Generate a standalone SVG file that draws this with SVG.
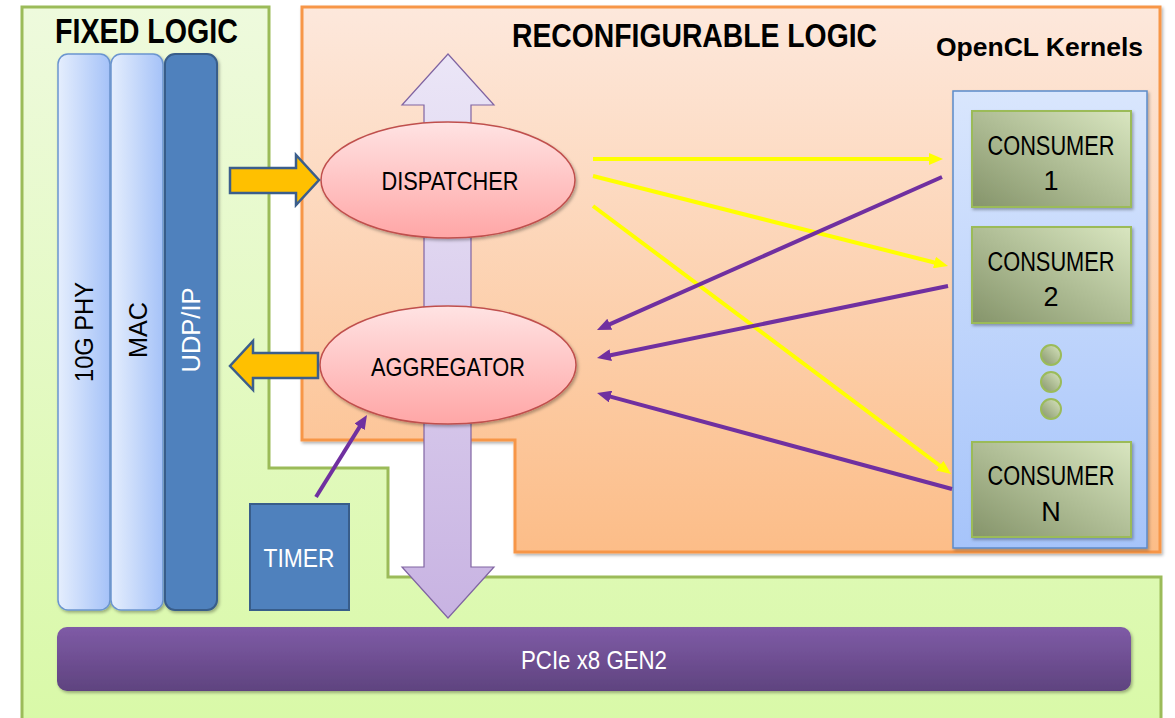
<svg xmlns="http://www.w3.org/2000/svg" width="1175" height="718" viewBox="0 0 1175 718">
  <defs>
    <linearGradient id="gFixed" x1="0" y1="0" x2="0" y2="1">
      <stop offset="0" stop-color="#eefadd"/>
      <stop offset="1" stop-color="#d9f9a8"/>
    </linearGradient>
    <linearGradient id="gReconf" x1="0" y1="0" x2="0" y2="1">
      <stop offset="0" stop-color="#fde8dc"/>
      <stop offset="1" stop-color="#fcbd88"/>
    </linearGradient>
    <linearGradient id="gCol" x1="0" y1="0" x2="1" y2="0">
      <stop offset="0" stop-color="#e5eefd"/>
      <stop offset="1" stop-color="#a5c2f8"/>
    </linearGradient>
    <linearGradient id="gPcie" x1="0" y1="0" x2="0" y2="1">
      <stop offset="0" stop-color="#7f5ba6"/>
      <stop offset="1" stop-color="#5f437f"/>
    </linearGradient>
    <linearGradient id="gBus" x1="0" y1="0" x2="0" y2="1">
      <stop offset="0" stop-color="#ebe6f7"/>
      <stop offset="1" stop-color="#c8b3e2"/>
    </linearGradient>
    <linearGradient id="gEll" x1="0" y1="0" x2="0" y2="1">
      <stop offset="0" stop-color="#ffe3e3"/>
      <stop offset="1" stop-color="#ffa6a6"/>
    </linearGradient>
    <linearGradient id="gKern" x1="0" y1="0" x2="0" y2="1">
      <stop offset="0" stop-color="#d9e6fd"/>
      <stop offset="1" stop-color="#a6c4fa"/>
    </linearGradient>
    <linearGradient id="gCons" x1="0" y1="1" x2="1" y2="0">
      <stop offset="0" stop-color="#85946a"/>
      <stop offset="1" stop-color="#d9e6c0"/>
    </linearGradient>
    <filter id="shadow" x="-10%" y="-10%" width="130%" height="130%">
      <feDropShadow dx="1.5" dy="2" stdDeviation="1.5" flood-color="#000" flood-opacity="0.3"/>
    </filter>
    <marker id="headY" viewBox="0 0 14 12" refX="4" refY="6" markerWidth="14" markerHeight="12" markerUnits="userSpaceOnUse" orient="auto">
      <path d="M0,0 L14,6 L0,12 z" fill="#ffff00"/>
    </marker>
    <marker id="headP" viewBox="0 0 14 12" refX="4" refY="6" markerWidth="14" markerHeight="12" markerUnits="userSpaceOnUse" orient="auto">
      <path d="M0,0 L14,6 L0,12 z" fill="#7030a0"/>
    </marker>
    <style>
      .lbl { font-family: "Liberation Sans", Arial, sans-serif; fill: #000; }
      .title { font-weight: bold; }
      .white { fill: #fff; }
      .col { fill: url(#gCol); stroke: #6b95cf; stroke-width: 1.5; }
      .dark { fill: #4f81bd; stroke: #385d8a; stroke-width: 2; }
      .ell { fill: url(#gEll); stroke: #c0504d; stroke-width: 1.5; }
      .cons { fill: url(#gCons); stroke: #9bbb59; stroke-width: 2; }
      .fat { fill: #ffc000; stroke: #3b5e8c; stroke-width: 2.5; }
      .yel { stroke: #ffff00; stroke-width: 4; fill: none; marker-end: url(#headY); }
      .pur { stroke: #7030a0; stroke-width: 4; fill: none; marker-end: url(#headP); }
    </style>
  </defs>

  <rect width="1175" height="718" fill="#fff"/>

  <!-- fixed logic region -->
  <g id="fixed-logic">
    <path d="M22,7 H269 V468 H388 V577 H1161 V722 H22 Z" fill="url(#gFixed)" stroke="#9bbb59" stroke-width="3"/>
    <text class="lbl title" x="55" y="43" font-size="35" textLength="183" lengthAdjust="spacingAndGlyphs">FIXED LOGIC</text>
  </g>

  <!-- reconfigurable logic region -->
  <g id="reconfigurable-logic">
    <path d="M302,7 H1160 V552 H515 V440 H302 Z" fill="url(#gReconf)" stroke="#f79646" stroke-width="3" filter="url(#shadow)"/>
    <text class="lbl title" x="512" y="47" font-size="34" textLength="365" lengthAdjust="spacingAndGlyphs">RECONFIGURABLE LOGIC</text>
    <text class="lbl title" x="936" y="56" font-size="25" textLength="207" lengthAdjust="spacingAndGlyphs">OpenCL Kernels</text>
  </g>

  <!-- network stack columns -->
  <g id="phy">
    <rect class="col" x="58" y="54" width="52" height="556" rx="10" filter="url(#shadow)"/>
    <text class="lbl" transform="translate(93,332) rotate(-90)" text-anchor="middle" font-size="26" textLength="100" lengthAdjust="spacingAndGlyphs">10G PHY</text>
  </g>
  <g id="mac">
    <rect class="col" x="111" y="54" width="52" height="556" rx="10" filter="url(#shadow)"/>
    <text class="lbl" transform="translate(147,330) rotate(-90)" text-anchor="middle" font-size="26" textLength="56" lengthAdjust="spacingAndGlyphs">MAC</text>
  </g>
  <g id="udpip">
    <rect class="dark" x="165" y="54" width="52" height="556" rx="10" filter="url(#shadow)"/>
    <text class="lbl white" transform="translate(200,330) rotate(-90)" text-anchor="middle" font-size="26" textLength="85" lengthAdjust="spacingAndGlyphs">UDP/IP</text>
  </g>

  <!-- timer -->
  <g id="timer">
    <rect class="dark" x="250" y="504" width="99" height="106"/>
    <text class="lbl white" x="299" y="567" text-anchor="middle" font-size="26" textLength="71" lengthAdjust="spacingAndGlyphs">TIMER</text>
  </g>

  <!-- PCIe bus -->
  <g id="pcie">
    <rect x="57" y="627" width="1074" height="64" rx="10" fill="url(#gPcie)" filter="url(#shadow)"/>
    <text class="lbl white" x="594" y="669" text-anchor="middle" font-size="25" textLength="146" lengthAdjust="spacingAndGlyphs">PCIe x8 GEN2</text>
  </g>

  <!-- internal bus, double-headed -->
  <g id="bus">
    <polygon points="448,54 494,105 471,105 471,567 494,567 448,618 402,567 424,567 424,105 402,105" fill="url(#gBus)" stroke="#8064a2" stroke-width="1.2"/>
  </g>

  <!-- dispatcher / aggregator -->
  <g id="dispatcher">
    <ellipse class="ell" cx="448" cy="180" rx="127" ry="58" filter="url(#shadow)"/>
    <text class="lbl" x="450" y="190" text-anchor="middle" font-size="26" textLength="137" lengthAdjust="spacingAndGlyphs">DISPATCHER</text>
  </g>
  <g id="aggregator">
    <ellipse class="ell" cx="448" cy="365" rx="128" ry="59" filter="url(#shadow)"/>
    <text class="lbl" x="448" y="376" text-anchor="middle" font-size="26" textLength="154" lengthAdjust="spacingAndGlyphs">AGGREGATOR</text>
  </g>

  <!-- OpenCL kernel container -->
  <g id="kernels">
    <rect x="953" y="91" width="194" height="457" fill="url(#gKern)" stroke="#5b8bc9" stroke-width="1.5" filter="url(#shadow)"/>
  </g>
  <g id="consumer-1">
    <rect class="cons" x="972" y="111" width="159" height="96" filter="url(#shadow)"/>
    <text class="lbl" x="1051" y="155" text-anchor="middle" font-size="27" textLength="127" lengthAdjust="spacingAndGlyphs">CONSUMER</text>
    <text class="lbl" x="1051" y="190" text-anchor="middle" font-size="27">1</text>
  </g>
  <g id="consumer-2">
    <rect class="cons" x="972" y="227" width="159" height="96" filter="url(#shadow)"/>
    <text class="lbl" x="1051" y="271" text-anchor="middle" font-size="27" textLength="127" lengthAdjust="spacingAndGlyphs">CONSUMER</text>
    <text class="lbl" x="1051" y="306" text-anchor="middle" font-size="27">2</text>
  </g>
  <g id="ellipsis">
    <circle class="cons" cx="1051" cy="355" r="10"/>
    <circle class="cons" cx="1051" cy="382" r="10"/>
    <circle class="cons" cx="1051" cy="409" r="10"/>
  </g>
  <g id="consumer-n">
    <rect class="cons" x="972" y="442" width="159" height="95" filter="url(#shadow)"/>
    <text class="lbl" x="1051" y="485" text-anchor="middle" font-size="27" textLength="127" lengthAdjust="spacingAndGlyphs">CONSUMER</text>
    <text class="lbl" x="1051" y="521" text-anchor="middle" font-size="27">N</text>
  </g>

  <!-- connectors -->
  <g id="connectors">
    <polygon class="fat" points="230,168 296,168 296,155 319,180 296,205 296,193 230,193"/>
    <polygon class="fat" points="318,353 253,353 253,341 230,366 253,390 253,378 318,378"/>
    <line class="yel" x1="593" y1="159" x2="933" y2="159"/>
    <line class="yel" x1="593" y1="176" x2="938.3" y2="263.5"/>
    <line class="yel" x1="593" y1="206" x2="943" y2="468"/>
    <line class="pur" x1="942" y1="177" x2="606.1" y2="325.9"/>
    <line class="pur" x1="948" y1="286" x2="606.8" y2="356"/>
    <line class="pur" x1="952" y1="489" x2="606.7" y2="395.6"/>
    <line class="pur" x1="316" y1="497" x2="361.7" y2="423.5"/>
  </g>
</svg>
